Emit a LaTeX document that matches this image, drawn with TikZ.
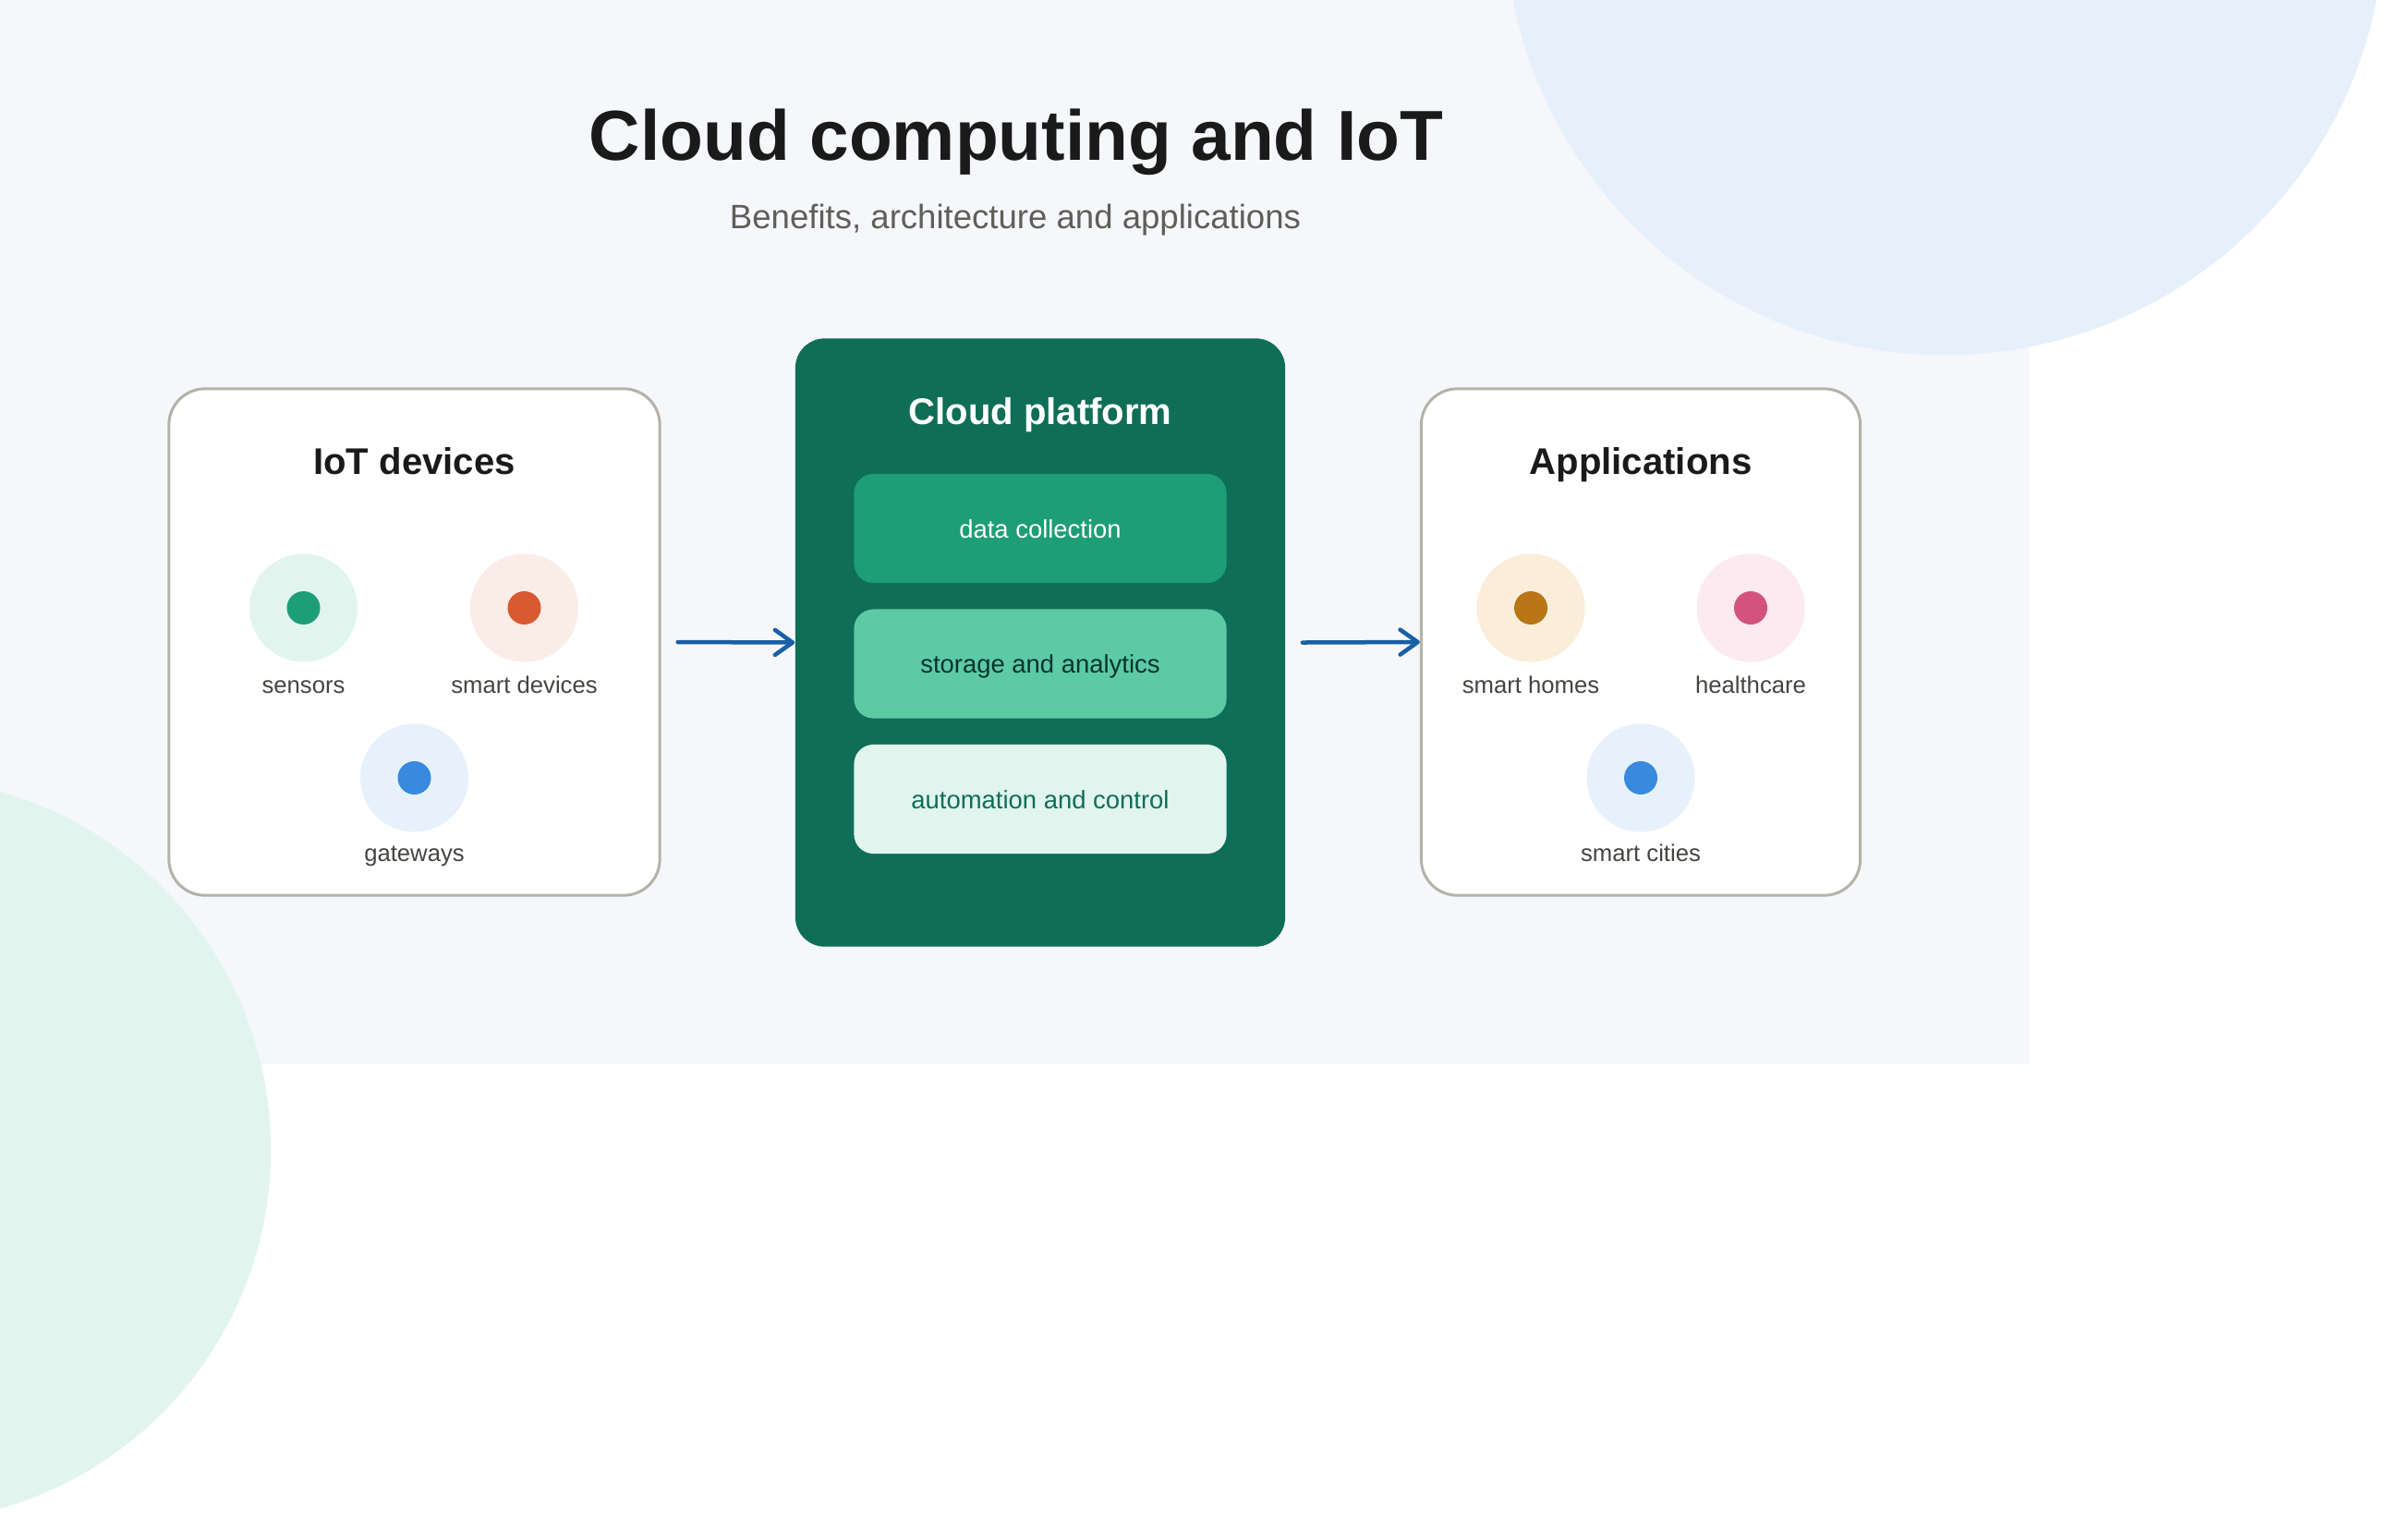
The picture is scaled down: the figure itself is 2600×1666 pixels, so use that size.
\documentclass[tikz,border=0pt]{standalone}
\usepackage{fontspec}
\setmainfont{Liberation Sans}
\usetikzlibrary{arrows.meta}

\definecolor{panelbg}{HTML}{F5F7FB}
\definecolor{blobblue}{HTML}{E6F0FA}
\definecolor{blobgreen}{HTML}{E1F5EE}
\definecolor{cloudgreen}{HTML}{0F6E56}
\definecolor{tealA}{HTML}{1D9E75}
\definecolor{tealB}{HTML}{5DCAA5}
\definecolor{tealC}{HTML}{E1F5EE}
\definecolor{deepteal}{HTML}{04342C}
\definecolor{cardline}{HTML}{B4B2A9}
\definecolor{flowblue}{HTML}{185FA5}
\definecolor{ink}{HTML}{1A1A1A}
\definecolor{labelgrey}{HTML}{444441}
\definecolor{subgrey}{HTML}{5F5E5A}
\definecolor{haloA}{HTML}{E1F5EE}
\definecolor{dotA}{HTML}{1D9E75}
\definecolor{haloB}{HTML}{FAECE7}
\definecolor{dotB}{HTML}{D85A30}
\definecolor{haloC}{HTML}{E6F1FB}
\definecolor{dotC}{HTML}{378ADD}
\definecolor{haloD}{HTML}{FAEEDA}
\definecolor{dotD}{HTML}{BA7517}
\definecolor{haloE}{HTML}{FBEAF0}
\definecolor{dotE}{HTML}{D4537E}

\begin{document}
\begin{tikzpicture}[x=0.01cm, y=-0.01cm,
    >={Straight Barb[length=0.19cm, width=0.27cm, round]},
    card/.style={draw=cardline, line width=0.03cm, fill=white, rounded corners=0.39cm, minimum height=5.48cm},
    cloudlayer/.style={rounded corners=0.21cm, minimum width=4.03cm, minimum height=1.18cm,
        text height=0.2cm, text depth=0cm, font=\fontsize{7.8}{9}\selectfont},
    halo/.style={circle, minimum size=1.17cm, inner sep=0pt},
    core/.style={circle, minimum size=0.36cm, inner sep=0pt},
    tag/.style={anchor=base, text=labelgrey, font=\fontsize{7.3}{9}\selectfont},
    cardtitle/.style={anchor=base, font=\fontsize{11.4}{13}\selectfont\bfseries},
    flowarrow/.style={->, draw=flowblue, line width=0.045cm, line cap=round}]
    % Nen
    \useasboundingbox (0,0) rectangle (2600,1666);
    \fill[white] (0,0) rectangle (2600,1666);
    \fill[panelbg] (0,0) rectangle (2197,1152);
    \begin{scope}
        \clip (0,0) rectangle (2600,1666);
        \fill[blobblue] (2105,-92) circle[radius=4.76cm];
        \fill[blobgreen] (-110,1245) circle[radius=4.03cm];
    \end{scope}
    % Tieu de
    \node[anchor=base, text=ink, font=\fontsize{21.8}{26}\selectfont\bfseries] (title) at (1100,173) {Cloud computing and IoT};
    \node[anchor=base, text=subgrey, font=\fontsize{10.4}{12}\selectfont] (subtitle) at (1099,247) {Benefits, architecture and applications};
    % Ba khung
    \node[card, minimum width=5.31cm] (devbox) at (448.5,695) {};
    \node[card, minimum width=4.75cm] (appbox) at (1776,695) {};
    \node[fill=cloudgreen, rounded corners=0.32cm, minimum width=5.30cm, minimum height=6.58cm] (cloud) at (1126,695.5) {};
    \node[cardtitle, text=ink] (devtitle) at (448.5,513) {IoT devices};
    \node[cardtitle, text=ink] (apptitle) at (1776,513) {Applications};
    \node[cardtitle, text=white] (cloudtitle) at (1126,459) {Cloud platform};
    % Cac lop trong cloud
    \node[cloudlayer, fill=tealA, text=white] (collect) at (1126,572) {data collection};
    \node[cloudlayer, fill=tealB, text=deepteal] (store) at (1126,718.5) {storage and analytics};
    \node[cloudlayer, fill=tealC, text=cloudgreen] (control) at (1126,865) {automation and control};
    % Cac bieu tuong
    \foreach \px/\py/\ly/\bg/\fg/\nm/\txt in {
        328.5/658/750/haloA/dotA/sensors/sensors,
        567.5/658/750/haloB/dotB/smartdev/smart devices,
        448.5/842/932/haloC/dotC/gateways/gateways,
        1657/658/750/haloD/dotD/homes/smart homes,
        1895/658/750/haloE/dotE/health/healthcare,
        1776/842/932/haloC/dotC/cities/smart cities} {
        \node[halo, fill=\bg] (\nm) at (\px,\py) {};
        \node[core, fill=\fg] at (\nm) {};
        \node[tag] at (\px,\ly) {\txt};
    }
    % Mui ten
    \draw[flowarrow] ([xshift=0.18cm]devbox.east) -- (cloud.west);
    \draw[flowarrow] ([xshift=0.18cm]cloud.east) -- (appbox.west);
\end{tikzpicture}
\end{document}
